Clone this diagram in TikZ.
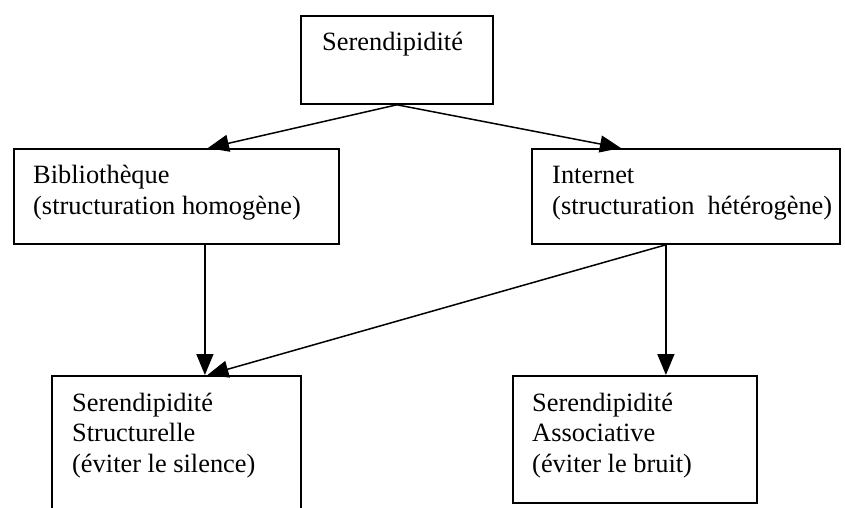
\documentclass[tikz,border=0pt]{standalone}
\usepackage{fontspec}
\setmainfont{Liberation Serif}
\usetikzlibrary{arrows.meta,positioning}
\tikzset{
	kasten/.style={draw, line width=1.8pt, inner sep=0pt, anchor=north west},
	txt/.style={anchor=base west, inner sep=0pt, align=left, font=\fontsize{26.4}{30.5}\selectfont},
	pfeil/.style={line width=1.5pt, -{Triangle[length=21pt,width=17pt]}}
}
\begin{document}
\begin{tikzpicture}[x=1pt, y=-1pt]
		\clip (0, 0) rectangle (845, 508);
		% Oberer Kasten
		\node [kasten, minimum width=192pt, minimum height=88pt] (seren) at (300, 15) {};
		\node [txt] (serenT) at (322, 51) {Serendipidité};
		% Mittlere Kaesten (Grundlinie der letzten Zeile)
		\node [kasten, minimum width=325pt, minimum height=95pt] (biblio) at (13, 148) {};
		\node [txt] (biblioT) at (33, 214) {Bibliothèque\\(structuration homogène)};
		\node [kasten, minimum width=308pt, minimum height=95pt] (internet) at (531, 148) {};
		\node [txt] (internetT) at (552, 214) {Internet\\(structuration~ hétérogène)};
		% Untere Kaesten
		\node [kasten, minimum width=249pt, minimum height=150pt] (struct) at (51, 375) {};
		\node [txt] (structT) at (72, 472) {Serendipidité\\Structurelle\\(éviter le silence)};
		\node [kasten, minimum width=244pt, minimum height=127pt] (assoc) at (512, 375) {};
		\node [txt] (assocT) at (532, 472) {Serendipidité\\Associative\\(éviter le bruit)};
		% Pfeile
		\draw [pfeil] (seren.south) -- ([xshift=31.5pt]biblio.north);
		\draw [pfeil] (seren.south) -- ([xshift=-65pt]internet.north);
		\draw [pfeil] ([xshift=28.5pt]biblio.south) -- ([xshift=28.5pt]struct.north);
		\draw [pfeil] ([xshift=-20pt]internet.south) -- ([xshift=31pt]assoc.north);
		\draw [pfeil] ([xshift=-20pt]internet.south) -- ([xshift=31pt]struct.north);
	\end{tikzpicture}
\end{document}
